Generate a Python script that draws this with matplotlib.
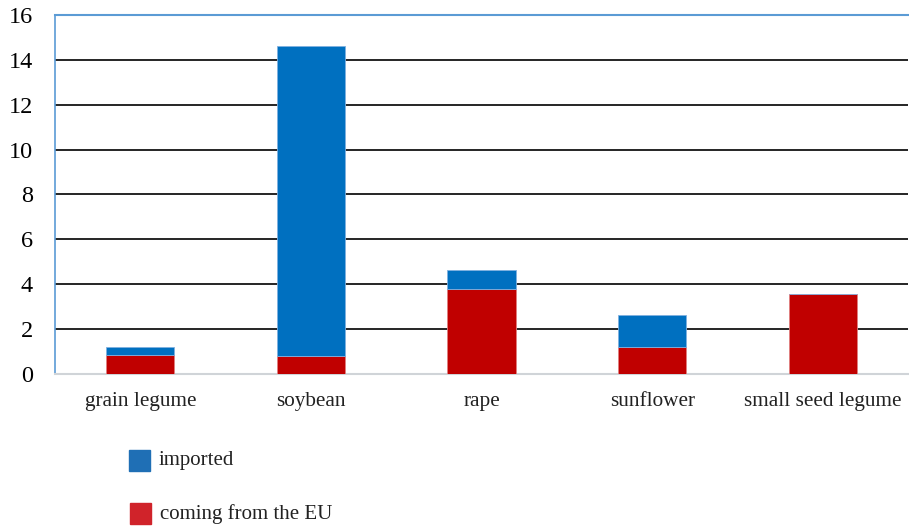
import numpy as np
import matplotlib.pyplot as plt
from matplotlib.patches import Rectangle

plt.rcParams['font.family'] = ['Liberation Serif', 'DejaVu Serif']

categories = ['grain legume', 'soybean', 'rape', 'sunflower', 'small seed legume']
from_eu = [0.85, 0.8, 3.8, 1.2, 3.55]
imported = [0.35, 13.8, 0.83, 1.42, 0.0]

W, H = 909, 526
fig = plt.figure(figsize=(W / 100, H / 100), dpi=100)
ax = fig.add_axes([0.0605, 0.289, 0.9385, 0.6825])

x = np.arange(len(categories))
ax.bar(x, from_eu, width=0.40, color='#c00000', edgecolor='#e08080', linewidth=0.6, zorder=3)
ax.bar(x, imported, width=0.40, bottom=from_eu, color='#0070c0', edgecolor='#80b0e0', linewidth=0.6, zorder=3)

ax.set_xlim(-0.5, 4.5)
ax.set_ylim(0, 16)
ax.set_yticks(range(0, 17, 2))
ax.set_xticks(x)
ax.set_xticklabels(categories, fontsize=15.3, color='#222222')
ax.tick_params(axis='y', labelsize=17.5, length=0, pad=16)
ax.tick_params(axis='x', length=0, pad=13)
ax.yaxis.grid(True, color='black', linewidth=1.2, zorder=1)
ax.set_axisbelow(True)

ax.spines['right'].set_visible(False)
ax.spines['top'].set_color('#5b9bd5')
ax.spines['top'].set_linewidth(1.5)
ax.spines['left'].set_color('#5b9bd5')
ax.spines['left'].set_linewidth(1.2)
ax.spines['bottom'].set_color('#d0d4d8')
ax.spines['bottom'].set_linewidth(1.5)

# legend drawn by hand below the plot
legend_items = [('imported', '#1f6fb5', 129, 450),
                ('coming from the EU', '#d0232a', 130, 503)]
for label, col, px, py in legend_items:
    fig.add_artist(Rectangle((px / W, 1 - (py + 21) / H), 21 / W, 21 / H,
                             transform=fig.transFigure, color=col))
    fig.text((px + 30) / W, 1 - (py + 11) / H, label, fontsize=15,
             color='#222222', va='center', ha='left')

fig.savefig('out.png', dpi=100)
